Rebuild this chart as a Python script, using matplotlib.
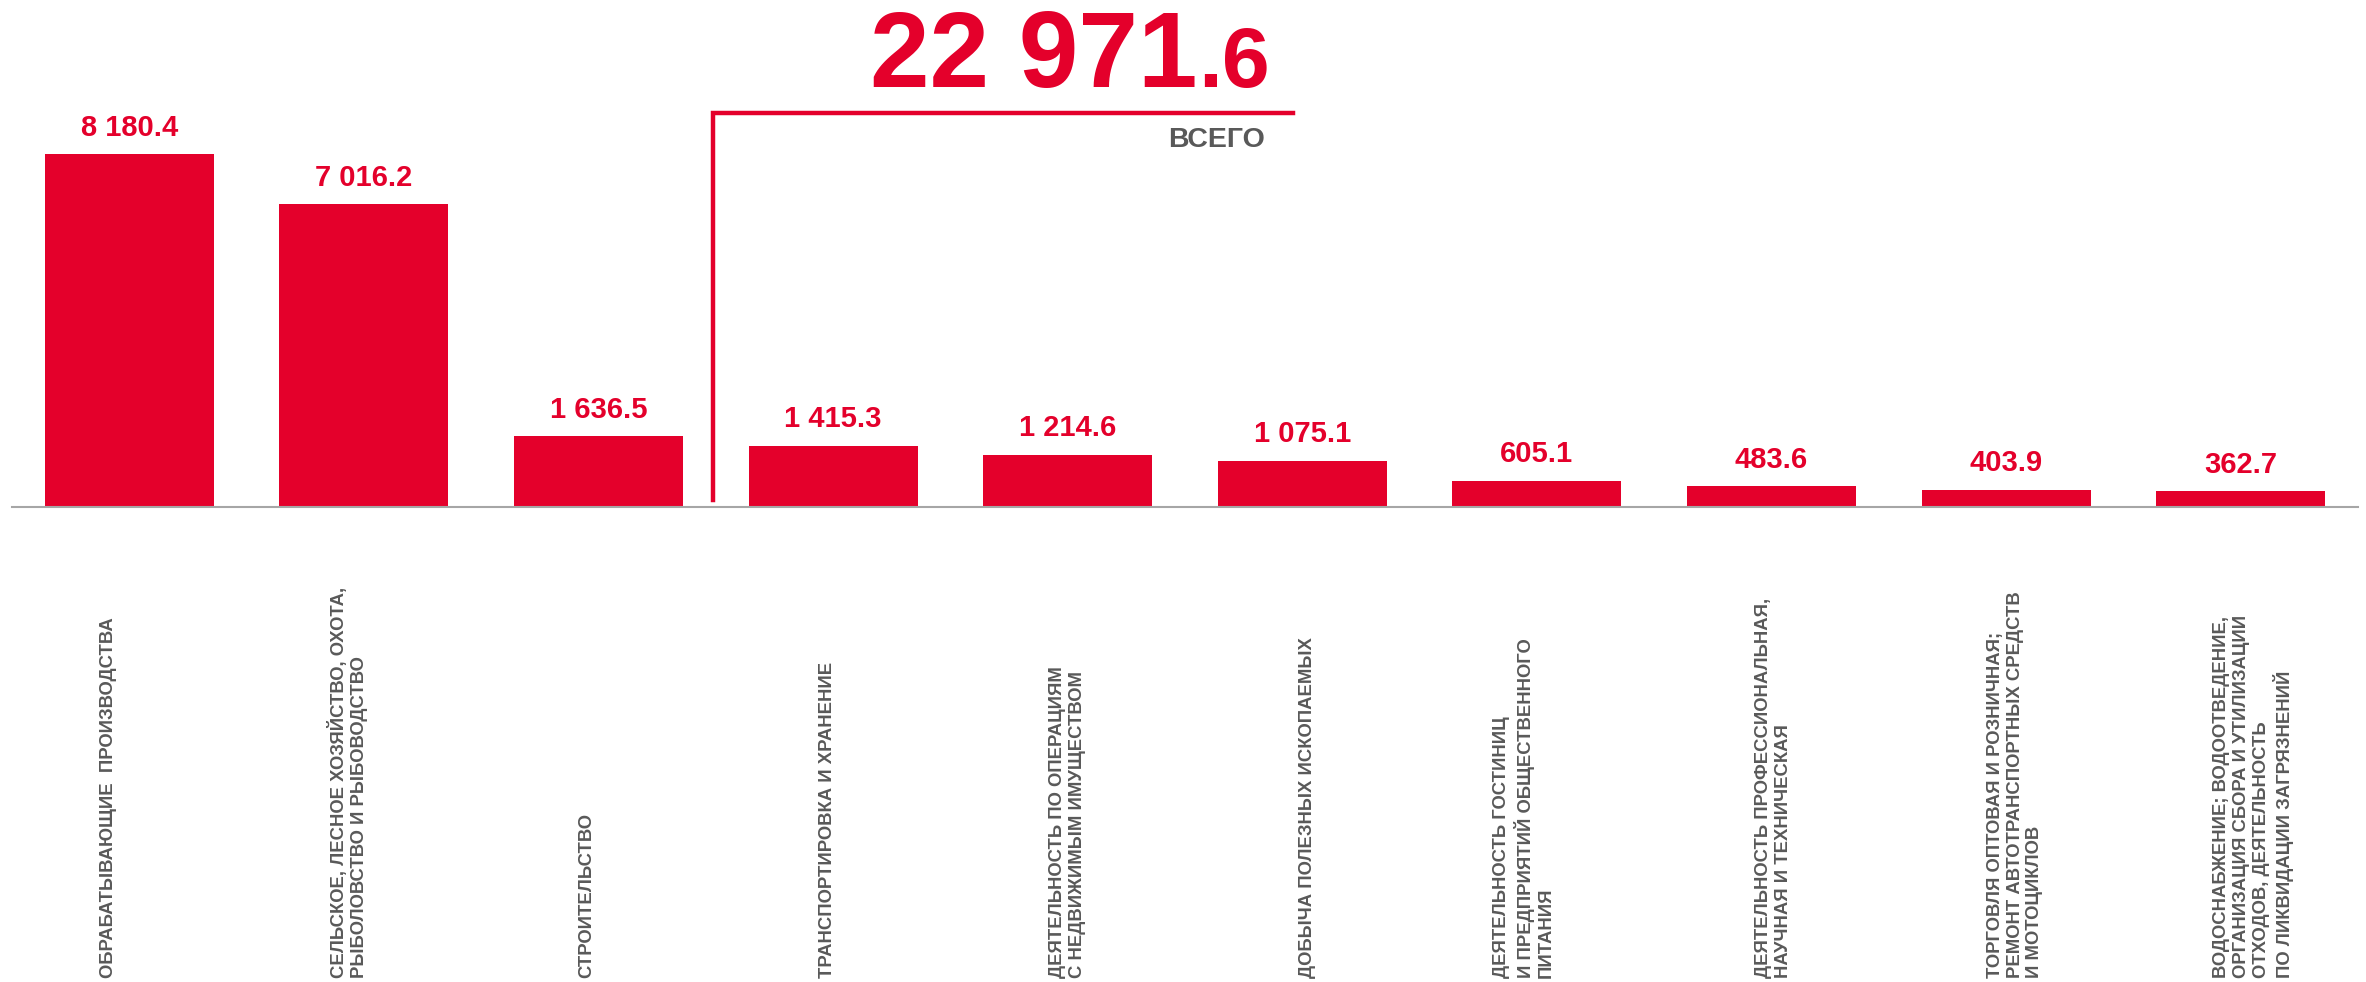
import matplotlib
matplotlib.use("Agg")
import matplotlib.pyplot as plt
from matplotlib.transforms import blended_transform_factory, offset_copy

# data
categories = [
    "ОБРАБАТЫВАЮЩИЕ  ПРОИЗВОДСТВА",
    "СЕЛЬСКОЕ, ЛЕСНОЕ ХОЗЯЙСТВО, ОХОТА,\nРЫБОЛОВСТВО И РЫБОВОДСТВО",
    "СТРОИТЕЛЬСТВО",
    "ТРАНСПОРТИРОВКА И ХРАНЕНИЕ",
    "ДЕЯТЕЛЬНОСТЬ ПО ОПЕРАЦИЯМ\nС НЕДВИЖИМЫМ ИМУЩЕСТВОМ",
    "ДОБЫЧА ПОЛЕЗНЫХ ИСКОПАЕМЫХ",
    "ДЕЯТЕЛЬНОСТЬ ГОСТИНИЦ\nИ ПРЕДПРИЯТИЙ ОБЩЕСТВЕННОГО\nПИТАНИЯ",
    "ДЕЯТЕЛЬНОСТЬ ПРОФЕССИОНАЛЬНАЯ,\nНАУЧНАЯ И ТЕХНИЧЕСКАЯ",
    "ТОРГОВЛЯ ОПТОВАЯ И РОЗНИЧНАЯ;\nРЕМОНТ АВТОТРАНСПОРТНЫХ СРЕДСТВ\nИ МОТОЦИКЛОВ",
    "ВОДОСНАБЖЕНИЕ; ВОДООТВЕДЕНИЕ,\nОРГАНИЗАЦИЯ СБОРА И УТИЛИЗАЦИИ\nОТХОДОВ, ДЕЯТЕЛЬНОСТЬ\nПО ЛИКВИДАЦИИ ЗАГРЯЗНЕНИЙ",
]
values = [8180.4, 7016.2, 1636.5, 1415.3, 1214.6, 1075.1, 605.1, 483.6, 403.9, 362.7]
value_labels = ["8 180.4", "7 016.2", "1 636.5", "1 415.3", "1 214.6",
                "1 075.1", "605.1", "483.6", "403.9", "362.7"]
total_int = "22 971"
total_dec = ".6"
total_caption = "ВСЕГО"

# layout: horizontal nudge of each category label, in pixels
label_dx = [-21, -16, -12, -6, 0, 5, -13, 2, 9, 13]

RED = "#E4002B"
GRAY = "#595959"

plt.rcParams['font.family'] = ['Liberation Sans', 'DejaVu Sans']

DPI = 100
fig = plt.figure(figsize=(23.66, 9.82), dpi=DPI)
W, H = 2366, 982
ax = fig.add_axes([12 / W, (H - 507) / H, (2358 - 12) / W, 507 / H])

x = list(range(len(values)))
ax.bar(x, values, width=0.72, color=RED)
ax.set_xlim(-0.5, len(values) - 0.5)
ax.set_ylim(0, 11750)

for s in ["top", "left", "right"]:
    ax.spines[s].set_visible(False)
ax.spines["bottom"].set_color("#A6A6A6")
ax.spines["bottom"].set_linewidth(1.5)
ax.set_xticks([])
ax.set_yticks([])

for xi, v, lab in zip(x, values, value_labels):
    ax.annotate(lab, (xi, v), xytext=(0, 9), textcoords="offset points",
                ha="center", va="bottom", color=RED, fontsize=21, fontweight="bold")

# category labels, rotated, anchored at bottom of figure
trans = blended_transform_factory(ax.transData, fig.transFigure)
for xi, cat, dx in zip(x, categories, label_dx):
    tr = offset_copy(trans, fig=fig, x=dx, y=0, units="dots")
    ax.text(xi, 4 / H, cat, transform=tr, rotation=90, ha="center", va="bottom",
            multialignment="left", color=GRAY, fontsize=13.3, fontweight="bold",
            linespacing=1.2, clip_on=False)

# total bracket
ax.plot([2.49, 2.49, 4.96], [160, 9130, 9130], color=RED, lw=3.2,
        solid_joinstyle="miter", clip_on=False)
t6 = ax.text(4.86, 9730, total_dec, ha="right", va="baseline", color=RED,
             fontsize=62, fontweight="bold")
ax.annotate(total_int, xy=(0, 9730), xycoords=(t6, "data"), ha="right", va="baseline",
            color=RED, fontsize=77, fontweight="bold")
ax.text(4.84, 8350, total_caption, ha="right", va="baseline", color=GRAY,
        fontsize=20.5, fontweight="bold")

fig.savefig("out.png", dpi=DPI)
